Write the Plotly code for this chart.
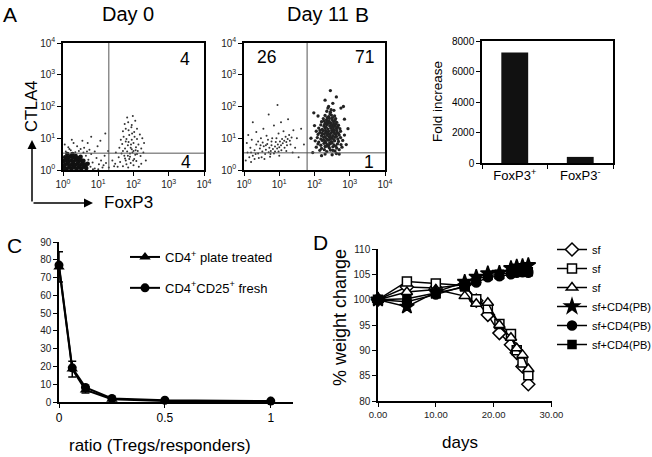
import plotly.graph_objects as go

# ---- Panel A: flow cytometry dots, log10 units (FoxP3, CTLA4) ----
day0_core = [(0.03, 0.06), (0.1, 0.04), (0.17, 0.08), (0.24, 0.05), (0.31, 0.09), (0.38, 0.05), (0.45, 0.08),
             (0.52, 0.05), (0.59, 0.1), (0.05, 0.16), (0.12, 0.2), (0.2, 0.15), (0.27, 0.19), (0.34, 0.16),
             (0.41, 0.2), (0.48, 0.15), (0.55, 0.21), (0.63, 0.17), (0.02, 0.28), (0.09, 0.3), (0.16, 0.26),
             (0.23, 0.31), (0.3, 0.27), (0.37, 0.32), (0.44, 0.27), (0.51, 0.31), (0.58, 0.29), (0.06, 0.4),
             (0.14, 0.38), (0.21, 0.43), (0.29, 0.39), (0.36, 0.44), (0.43, 0.38), (0.5, 0.42), (0.12, 0.5),
             (0.27, 0.5), (0.66, 0.06), (0.7, 0.2)]
day0_sparse = [(0.72, 0.32), (0.78, 0.1), (0.84, 0.24), (0.9, 0.05), (0.95, 0.38), (1.02, 0.18), (1.08, 0.3),
               (0.8, 0.5), (0.65, 0.45), (0.58, 0.55), (0.45, 0.6), (0.35, 0.56), (0.22, 0.62), (0.08, 0.58),
               (0.15, 0.72), (0.4, 0.75), (0.6, 0.7), (0.75, 0.64), (0.9, 0.58), (1.12, 0.08), (1.18, 0.45),
               (0.3, 0.85), (0.55, 0.92), (0.05, 0.8), (0.98, 0.75), (1.22, 0.22), (0.7, 0.85), (0.25, 0.95),
               (1.3, 0.08), (1.28, 0.6), (1.4, 0.3), (1.45, 0.12), (0.85, 0.02), (1.0, 0.02), (1.15, 0.15),
               (0.68, 0.58), (0.5, 0.66), (0.18, 0.66), (1.06, 0.92), (1.2, 1.15), (0.8, 1.05)]
day0_pos = [(1.55, 0.1), (1.62, 0.25), (1.7, 0.12), (1.78, 0.3), (1.85, 0.08), (1.92, 0.22), (2.0, 0.15),
            (2.08, 0.28), (2.15, 0.1), (2.22, 0.2), (1.58, 0.4), (1.66, 0.52), (1.74, 0.45), (1.82, 0.58),
            (1.9, 0.42), (1.97, 0.55), (2.05, 0.48), (2.12, 0.6), (2.2, 0.44), (2.28, 0.55), (1.6, 0.7),
            (1.68, 0.82), (1.76, 0.68), (1.84, 0.78), (1.92, 0.7), (2.0, 0.85), (2.07, 0.72), (2.14, 0.8),
            (2.22, 0.68), (1.64, 0.95), (1.72, 1.05), (1.8, 0.98), (1.88, 1.1), (1.95, 0.95), (2.03, 1.05),
            (2.1, 0.98), (2.18, 1.12), (1.7, 1.22), (1.78, 1.3), (1.86, 1.25), (1.94, 1.35), (2.02, 1.2),
            (2.1, 1.3), (1.75, 1.45), (1.85, 1.5), (1.95, 1.42), (2.05, 1.55), (1.82, 1.65), (1.98, 1.7),
            (1.88, 0.35), (1.95, 0.65), (2.02, 0.35), (1.8, 0.18), (1.7, 0.6), (2.1, 0.5), (1.86, 0.88),
            (1.99, 0.3), (2.06, 0.62), (1.9, 0.52), (1.78, 0.9), (2.3, 0.85), (2.35, 0.3), (1.5, 0.55),
            (1.48, 0.2), (2.25, 1.0), (1.93, 0.8), (2.0, 0.6), (1.84, 0.45), (1.96, 1.15), (1.76, 0.36)]

day11_neg = [(0.1, 0.55), (0.18, 0.7), (0.25, 0.45), (0.3, 0.62), (0.35, 0.8), (0.4, 0.52), (0.45, 0.68),
             (0.5, 0.4), (0.52, 0.58), (0.56, 0.75), (0.6, 0.5), (0.62, 0.64), (0.66, 0.82), (0.7, 0.56),
             (0.72, 0.7), (0.76, 0.6), (0.78, 0.78), (0.82, 0.66), (0.85, 0.52), (0.88, 0.74), (0.9, 0.88),
             (0.94, 0.68), (0.96, 0.8), (1.0, 0.72), (1.02, 0.9), (1.05, 0.78), (1.08, 0.98), (1.1, 0.84),
             (1.14, 0.92), (1.18, 1.05), (1.2, 0.88), (1.24, 0.98), (1.28, 1.1), (1.3, 0.92), (1.35, 1.02),
             (0.42, 0.38), (0.58, 0.35), (0.74, 0.42), (0.3, 0.35), (0.15, 0.4), (0.08, 0.85), (0.22, 0.95),
             (0.48, 1.0), (0.64, 1.08), (0.8, 1.0), (0.98, 1.15), (1.12, 1.22), (1.4, 1.25), (1.45, 0.7),
             (1.38, 0.55), (0.35, 1.2), (0.55, 1.3), (0.85, 1.4), (1.05, 1.5), (1.25, 1.6), (0.7, 1.75),
             (0.95, 2.05), (0.25, 1.5), (1.5, 1.0), (1.2, 0.6), (0.05, 0.3), (0.2, 0.25), (1.0, 0.45),
             (0.88, 0.58), (0.68, 0.95), (0.53, 0.87), (0.4, 0.9), (1.15, 0.7), (0.62, 0.78), (0.92, 1.0),
             (0.78, 0.9), (1.06, 0.62), (0.33, 0.5), (0.47, 0.78), (0.75, 0.5), (0.98, 0.58), (1.22, 0.78),
             (1.32, 0.8), (0.2, 0.55), (0.12, 1.1), (1.55, 0.4), (1.62, 1.3), (1.7, 0.8)]
day11_pos = [(2.3, 0.5), (2.5, 0.48), (2.62, 0.52), (2.15, 0.62), (2.35, 0.58), (2.45, 0.63), (2.58, 0.6),
             (2.7, 0.64), (2.05, 0.72), (2.2, 0.68), (2.3, 0.74), (2.42, 0.7), (2.52, 0.73), (2.63, 0.69),
             (2.78, 0.72), (2.1, 0.82), (2.18, 0.78), (2.27, 0.84), (2.36, 0.8), (2.45, 0.83), (2.55, 0.79),
             (2.65, 0.82), (2.75, 0.8), (2.02, 0.92), (2.12, 0.88), (2.22, 0.93), (2.3, 0.9), (2.4, 0.94),
             (2.48, 0.89), (2.57, 0.92), (2.68, 0.9), (2.8, 0.93), (2.08, 1.02), (2.18, 0.98), (2.26, 1.03),
             (2.34, 0.99), (2.42, 1.04), (2.5, 1.0), (2.58, 1.03), (2.66, 0.98), (2.74, 1.02), (2.1, 1.12),
             (2.2, 1.08), (2.28, 1.13), (2.36, 1.09), (2.44, 1.12), (2.52, 1.08), (2.6, 1.12), (2.7, 1.1),
             (2.85, 1.1), (2.05, 1.22), (2.15, 1.18), (2.24, 1.23), (2.32, 1.19), (2.4, 1.22), (2.48, 1.18),
             (2.56, 1.23), (2.64, 1.19), (2.74, 1.22), (2.12, 1.32), (2.22, 1.28), (2.3, 1.33), (2.38, 1.29),
             (2.46, 1.32), (2.54, 1.28), (2.62, 1.31), (2.72, 1.3), (2.18, 1.42), (2.27, 1.38), (2.35, 1.43),
             (2.43, 1.39), (2.51, 1.42), (2.59, 1.38), (2.68, 1.41), (2.2, 1.52), (2.3, 1.48), (2.38, 1.53),
             (2.46, 1.49), (2.54, 1.52), (2.63, 1.5), (2.25, 1.62), (2.34, 1.58), (2.42, 1.63), (2.5, 1.59),
             (2.6, 1.62), (2.3, 1.72), (2.4, 1.68), (2.48, 1.73), (2.57, 1.7), (2.35, 1.85), (2.45, 1.82),
             (2.55, 1.88), (2.4, 2.0), (2.52, 2.1), (2.3, 2.2), (2.62, 2.3), (2.45, 2.5), (2.75, 1.95),
             (1.95, 0.55), (1.9, 1.0), (2.0, 1.4), (2.9, 0.8), (2.95, 1.3), (2.85, 1.6), (2.1, 1.7),
             (2.7, 0.5), (2.2, 0.45), (2.82, 2.0), (1.98, 1.8), (2.29, 1.05), (2.39, 1.15), (2.49, 1.25),
             (2.33, 1.35), (2.47, 1.45), (2.37, 0.95), (2.57, 1.15), (2.43, 0.85), (2.53, 1.35), (2.31, 1.25),
             (2.45, 1.05), (2.61, 1.45), (2.27, 1.55), (2.41, 1.55), (2.55, 0.95), (2.35, 0.75), (2.51, 1.65),
             (2.63, 1.25), (2.26, 0.95), (2.44, 0.97), (2.62, 1.06), (2.35, 1.16), (2.53, 1.2), (2.29, 1.44),
             (2.49, 1.35), (2.4, 1.47), (2.58, 1.56), (2.36, 1.65), (2.44, 1.76), (2.22, 1.15), (2.68, 1.15),
             (2.5, 0.86), (2.32, 0.86), (2.4, 0.77), (2.6, 0.75), (2.16, 1.25), (2.66, 1.35), (2.55, 1.45),
             (2.34, 1.5), (2.47, 1.9), (2.38, 1.95), (2.28, 0.64), (2.52, 0.62)]

day0_gate = (1.30, 0.53)
day11_gate = (1.79, 0.54)
day0_quads = [("4", 3.45, 3.5), ("4", 3.5, 0.25)]
day11_quads = [("26", 0.65, 3.55), ("71", 3.43, 3.55), ("1", 3.55, 0.25)]
decades = [0, 1, 2, 3, 4]

# ---- Panel B ----
b_cats = ["FoxP3<sup>+</sup>", "FoxP3<sup>-</sup>"]
b_vals = [7250, 400]

# ---- Panel C ----
ratio = [0, 0.0625, 0.125, 0.25, 0.5, 1]
plate = [76.0, 18.5, 6.8, 1.6, 0.6, 0.3]
plate_err = [8.5, 4.4, 1.8, 0.5, 0.3, 0.2]
fresh = [77.0, 19.2, 8.2, 2.0, 1.0, 0.5]

# ---- Panel D ----
days = [0, 5, 10, 15, 17, 19, 21, 23, 24, 25, 26]
sf_diamond = [100, 102.5, 102.3, 103.0, 99.8, 97.0, 93.4, 91.1, 89.5, 86.8, 83.3]
sf_square = [100, 103.6, 103.2, 102.8, 100.1, 98.3, 95.2, 93.2, 90.0, 87.6, 85.1]
sf_triangle = [100, 101.5, 102.0, 100.7, 99.2, 99.4, 95.0, 92.5, 90.4, 89.1, 86.3]
pb_star = [100, 98.6, 101.5, 103.5, 104.5, 105.2, 105.3, 106.2, 106.5, 106.6, 106.8]
pb_circle = [100, 99.6, 101.0, 102.8, 103.4, 104.4, 104.6, 105.0, 105.3, 105.4, 105.3]
pb_square = [100, 100.2, 101.3, 102.5, 104.0, 104.7, 105.0, 105.5, 105.6, 105.6, 105.5]

FONT = "Liberation Sans, Arial, sans-serif"
W, H = 652, 457


def px(x):
    # window pixel -> paper fraction
    return x / W


def py(y):
    return 1 - y / H


fig = go.Figure()


def dots(pts, xa, ya, size, color):
    fig.add_trace(go.Scatter(x=[p[0] for p in pts], y=[p[1] for p in pts], mode="markers",
                             xaxis=xa, yaxis=ya, showlegend=False, hoverinfo="skip",
                             marker=dict(size=size, color=color, line=dict(width=0))))


dots(day0_core, "x", "y", 4.5, "#111")
dots(day0_sparse, "x", "y", 2, "#333")
dots(day0_pos, "x", "y", 2, "#333")
dots(day11_neg, "x2", "y2", 2, "#333")
dots(day11_pos, "x2", "y2", 3.3, "#222")

# B bars
fig.add_trace(go.Bar(x=b_cats, y=b_vals, xaxis="x3", yaxis="y3", width=0.41,
                     marker=dict(color="#111", line=dict(width=0)), showlegend=False))

# C lines
fig.add_trace(go.Scatter(x=ratio, y=plate, xaxis="x4", yaxis="y4", mode="lines+markers",
                         name="CD4<sup>+</sup> plate treated", legend="legend", legendgroup="a",
                         line=dict(color="black", width=2), cliponaxis=False,
                         marker=dict(symbol="triangle-up", size=10, color="black"),
                         error_y=dict(type="data", array=plate_err, color="black", thickness=1.5, width=4)))
fig.add_trace(go.Scatter(x=ratio, y=fresh, xaxis="x4", yaxis="y4", mode="lines+markers",
                         name="CD4<sup>+</sup>CD25<sup>+</sup> fresh", legend="legend", legendgroup="b",
                         line=dict(color="black", width=2), cliponaxis=False,
                         marker=dict(symbol="circle", size=9, color="black")))

# D lines
d_series = [
    ("sf", sf_diamond, "diamond", "white", 10, "g1"),
    ("sf", sf_square, "square", "white", 9, "g1"),
    ("sf", sf_triangle, "triangle-up", "white", 10, "g1"),
    ("sf+CD4(PB)", pb_star, "star", "black", 11, "g2"),
    ("sf+CD4(PB)", pb_circle, "circle", "black", 9, "g2"),
    ("sf+CD4(PB)", pb_square, "square", "black", 8, "g2"),
]
for name, vals, sym, fill, size, grp in d_series:
    fig.add_trace(go.Scatter(x=days, y=vals, xaxis="x5", yaxis="y5", mode="lines+markers",
                             name=name, legend="legend2", legendgroup=grp, cliponaxis=False,
                             line=dict(color="black", width=1.5),
                             marker=dict(symbol=sym, size=size, color=fill,
                                         line=dict(color="black", width=1.5))))

flow_ticks = ["10<sup>%d</sup>" % d for d in decades]
flow_axis = dict(range=[0, 4], tickvals=decades, ticktext=flow_ticks, showline=True, mirror=True,
                 linecolor="black", linewidth=1.5, ticks="outside", ticklen=4, tickcolor="black",
                 showgrid=False, zeroline=False, automargin=False, tickfont=dict(size=10, color="#222"))
plain = dict(showline=True, linecolor="black", linewidth=1.5, ticks="outside", ticklen=4,
             tickcolor="black", showgrid=False, zeroline=False, automargin=False)

fig.update_layout(
    width=W, height=H, margin=dict(l=0, r=0, t=0, b=0, autoexpand=False),
    paper_bgcolor="white", plot_bgcolor="white",
    font=dict(family=FONT, color="black"),
    xaxis=dict(domain=[px(63), px(204)], anchor="y", **flow_axis),
    yaxis=dict(domain=[py(170), py(43)], anchor="x", **flow_axis),
    xaxis2=dict(domain=[px(244), px(385)], anchor="y2", **flow_axis),
    yaxis2=dict(domain=[py(170), py(43)], anchor="x2", **flow_axis),
    xaxis3=dict(domain=[px(482), px(613)], anchor="y3", type="category", tickson="boundaries",
                mirror=True, tickfont=dict(size=13), **plain),
    yaxis3=dict(domain=[py(163), py(41)], anchor="x3", range=[0, 8000], tickvals=[0, 2000, 4000, 6000, 8000],
                mirror=True, tickfont=dict(size=10), **plain),
    xaxis4=dict(domain=[px(59), px(293)], anchor="y4", range=[0, 1.105], tickvals=[0, 0.5, 1],
                ticktext=["0", "0.5", "1"], tickfont=dict(size=12), **plain),
    yaxis4=dict(domain=[py(402), py(242)], anchor="x4", range=[0, 90], dtick=10,
                tickfont=dict(size=10, color="#222"), **plain),
    xaxis5=dict(domain=[px(378), px(552)], anchor="y5", range=[0, 30.1], tickvals=[0, 10, 20, 30],
                ticktext=["0.00", "10.00", "20.00", "30.00"], tickfont=dict(size=9.5, color="#222"), **plain),
    yaxis5=dict(domain=[py(401), py(249)], anchor="x5", range=[80, 110], dtick=5,
                tickfont=dict(size=10, color="#222"), **plain),
    legend=dict(x=px(125), y=py(242), xanchor="left", yanchor="top", bgcolor="rgba(0,0,0,0)",
                font=dict(size=13), traceorder="grouped", tracegroupgap=11, itemwidth=30),
    legend2=dict(x=px(552), y=py(235), xanchor="left", yanchor="top", bgcolor="rgba(0,0,0,0)",
                 font=dict(size=11), traceorder="grouped", tracegroupgap=0, itemwidth=30),
)

shapes = []
for xa, ya, gate in (("x", "y", day0_gate), ("x2", "y2", day11_gate)):
    shapes.append(dict(type="line", xref=xa, yref=ya, x0=gate[0], x1=gate[0], y0=0, y1=4,
                       line=dict(color="#555", width=1)))
    shapes.append(dict(type="line", xref=xa, yref=ya, x0=0, x1=4, y0=gate[1], y1=gate[1],
                       line=dict(color="#555", width=1)))
fig.update_layout(shapes=shapes)

ann = []
for txt, xv, yv in day0_quads:
    ann.append(dict(text=txt, x=xv, y=yv, xref="x", yref="y", showarrow=False, font=dict(size=17.5)))
for txt, xv, yv in day11_quads:
    ann.append(dict(text=txt, x=xv, y=yv, xref="x2", yref="y2", showarrow=False, font=dict(size=17.5)))


def label(text, x, y, size, angle=0):
    ann.append(dict(text=text, x=px(x), y=py(y), xref="paper", yref="paper", showarrow=False,
                    xanchor="center", yanchor="middle", textangle=angle, font=dict(size=size)))


label("A", 10, 15, 21)
label("B", 362, 15, 21)
label("C", 14, 245, 21)
label("D", 320, 243, 21)
label("Day 0", 128, 14, 20)
label("Day 11", 318, 14, 20)
label("CTLA4", 31, 107, 16.5, -90)
label("FoxP3", 128, 203, 17)
label("Fold increase", 438, 102, 13.5, -90)
label("ratio (Tregs/responders)", 160, 445, 17)
label("% weight change", 340, 318, 18, -90)
label("days", 460, 442, 17)

# FACS axis arrows
ann.append(dict(x=px(32), y=py(140), xref="paper", yref="paper", ax=0, ay=63, text="",
                showarrow=True, arrowhead=2, arrowsize=1.2, arrowwidth=1.5, arrowcolor="black"))
ann.append(dict(x=px(93), y=py(203), xref="paper", yref="paper", ax=-61, ay=0, text="",
                showarrow=True, arrowhead=2, arrowsize=1.2, arrowwidth=1.5, arrowcolor="black"))
fig.update_layout(annotations=ann)

# drop the browser's default 8px body margin so the figure fills the window
fig.write_html("out.html", config={"displayModeBar": False},
               post_script="document.body.style.margin='0';")
